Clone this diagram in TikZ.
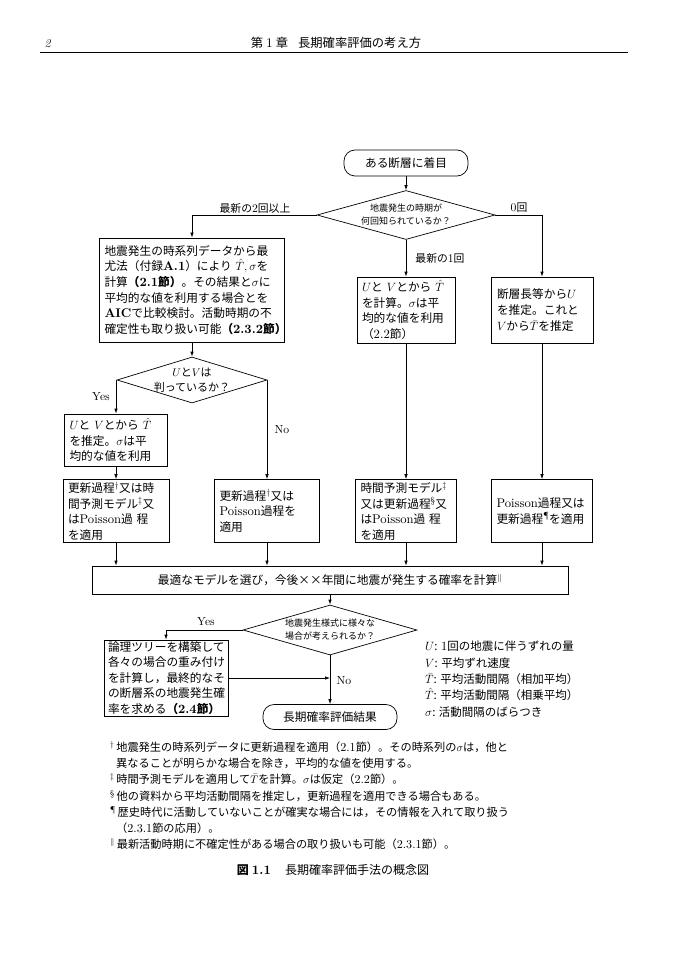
\documentclass[tikz,border=0pt]{standalone}
\usepackage[no-math]{fontspec}
\newfontfamily\jp{Noto Sans CJK JP}
\newfontfamily\lmfam{lmroman10-regular}[Extension=.otf, BoldFont=lmroman10-bold, ItalicFont=lmroman10-italic, Scale=1.08]
\usetikzlibrary{shapes.geometric,arrows.meta}
\newcommand\lt[1]{{\lmfam #1}}
\newcommand\fnm[1]{{\lmfam\textsuperscript{#1}}}
\begin{document}
\begin{tikzpicture}[x=1pt,y=-1pt,
  every node/.style={font=\jp\fontsize{11.7}{15.6}\selectfont},
  box/.style={draw, line width=0.7pt, align=left, inner xsep=5pt, inner ysep=0pt},
  term/.style={draw, line width=0.7pt, rounded corners=11pt, inner sep=0pt, align=center},
  dia/.style={draw, diamond, line width=0.7pt, inner sep=0pt},
  dtext/.style={align=center, font=\jp\fontsize{9}{13}\selectfont},
  dtextb/.style={align=center, font=\jp\fontsize{11}{15}\selectfont},
  lab/.style={font=\jp\fontsize{10.8}{13}\selectfont},
  arr/.style={line width=0.7pt, -{Latex[length=5pt,width=3.5pt]}}
]
\useasboundingbox (0,0) rectangle (699,968);

% header
\node[anchor=base west, font=\fontsize{12}{14}\selectfont] (pg) at (41,48) {\itshape 2};
\node[anchor=base, font=\jp\fontsize{12.3}{14}\selectfont] (hd) at (336,48) {第\hspace{3pt}\lt{1}\hspace{3pt}章\hspace{10pt}長期確率評価の考え方};
\draw[line width=0.6pt] (40,52) -- (628,52);

% nodes
\node[term, minimum width=124pt, minimum height=26pt] (start) at (406,163) {ある断層に着目};
\node[dia, minimum width=178pt, minimum height=49pt,
  label={[dtext]center:{地震発生の時期が\\何回知られているか？}}] (d1) at (406,215) {};

\node[box, text width=175pt, minimum height=104pt] (lb) at (192,290) {%
地震発生の時系列データから最\\
尤法（付録\lt{\bfseries A.1}）により $\hat{T}, \sigma$を\\
計算{\bfseries （\lt{2.1}節）}。その結果と$\sigma$に\\
平均的な値を利用する場合とを\\
\lt{\bfseries AIC}で比較検討。活動時期の不\\
確定性も取り扱い可能{\bfseries （\lt{2.3.2}節）}};

\node[box, text width=88pt, minimum height=66pt] (mb) at (406,310) {%
$U$と $V$とから $\hat{T}$\\
を計算。$\sigma$は平\\
均的な値を利用\\
（\lt{2.2}節）};

\node[box, text width=90pt, inner xsep=6pt, minimum height=66pt] (rb) at (542,310) {%
断層長等から$U$\\
を推定。これと\\
$V$から$\bar{T}$を推定};

\node[dia, minimum width=150pt, minimum height=46pt,
  label={[dtextb]center:{$U$と$V$は\\判っているか？}}] (d2) at (192,380) {};

\node[box, text width=93pt, minimum height=52pt] (sb) at (116,440) {%
$U$と $V$とから $\hat{T}$\\
を推定。$\sigma$は平\\
均的な値を利用};

\node[box, text width=96pt, minimum height=63pt] (ba) at (116,511) {%
更新過程\fnm{\dag}又は時\\
間予測モデル\fnm{\ddag}又\\
は\lt{Poisson}過 程\\
を適用};
\node[box, text width=95pt, minimum height=63pt] (bb) at (267,511) {%
更新過程\fnm{\dag}又は\\
\lt{Poisson}過程を\\
適用};
\node[box, text width=91pt, minimum height=63pt] (bc) at (406,511) {%
時間予測モデル\fnm{\ddag}\\
又は更新過程\fnm{\S}又\\
は\lt{Poisson}過 程\\
を適用};
\node[box, text width=91pt, minimum height=63pt] (bd) at (542,511) {%
\lt{Poisson}過程又は\\
更新過程\fnm{\P}を適用};

\node[box, align=center, text width=466pt, minimum height=28pt] (wb) at (330,580) {%
最適なモデルを選び，今後××年間に地震が発生する確率を計算$^{\|}$};

\node[dia, minimum width=174pt, minimum height=50pt,
  label={[dtext]center:{地震発生様式に様々な\\場合が考えられるか？}}] (d3) at (330,630) {};

\node[box, text width=116pt, inner xsep=4pt, minimum height=76pt] (eb) at (166,678) {%
論理ツリーを構築して\\
各々の場合の重み付け\\
を計算し，最終的なそ\\
の断層系の地震発生確\\
率を求める{\bfseries （\lt{2.4}節）}};

\node[term, minimum width=134pt, minimum height=25pt] (fin) at (330,717) {長期確率評価結果};

% connectors
\draw[arr] (start.south) -- (d1.north);
\draw[arr] (d1.west) -| (lb.north);
\draw[arr] (d1.east) -| (rb.north);
\draw[arr] (d1.south) -- (mb.north);
\draw[arr] (lb.south) -- (d2.north);
\draw[arr] (d2.west) -| (sb.north);
\draw[arr] (d2.east) -| (bb.north);
\draw[arr] (sb.south) -- (ba.north);
\draw[arr] (mb.south) -- (bc.north);
\draw[arr] (rb.south) -- (bd.north);
\foreach \n in {ba,bb,bc,bd} \draw[arr] (\n.south) -- (\n.south |- wb.north);
\draw[arr] (wb.south) -- (d3.north);
\draw[arr] (d3.west) -| (eb.north);
\draw[arr] (d3.south) -- (fin.north);
\draw[arr] (eb.east) -- (eb.east -| d3.south);

% labels
\node[lab] (l2) at (255,208) {最新の\lt{2}回以上};
\node[lab] (l0) at (519,208) {\lt{0}回};
\node[lab] (l1) at (440,258) {最新の\lt{1}回};
\node[lab] (ly1) at (101,397) {\lt{Yes}};
\node[lab] (ln1) at (282,430) {\lt{No}};
\node[lab] (ly2) at (206,622) {\lt{Yes}};
\node[lab] (ln2) at (344,681) {\lt{No}};

% legend
\node[anchor=north west, align=left, inner sep=0pt, font=\jp\fontsize{11.5}{16.3}\selectfont] (leg) at (425,641) {%
$U$: \lt{1}回の地震に伴うずれの量\\
$V$: 平均ずれ速度\\
$\bar{T}$: 平均活動間隔（相加平均）\\
$\hat{T}$: 平均活動間隔（相乗平均）\\
$\sigma$: 活動間隔のばらつき};

% footnotes
\node[anchor=north west, align=left, inner sep=0pt, font=\jp\fontsize{11.2}{16.3}\selectfont] (fn) at (110,741) {%
\fnm{\dag}\,地震発生の時系列データに更新過程を適用（\lt{2.1}節）。その時系列の$\sigma$は，他と\\
\hspace{6pt}異なることが明らかな場合を除き，平均的な値を使用する。\\
\fnm{\ddag}\,時間予測モデルを適用して$\bar{T}$を計算。$\sigma$は仮定（\lt{2.2}節）。\\
\fnm{\S}\,他の資料から平均活動間隔を推定し，更新過程を適用できる場合もある。\\
\fnm{\P}\,歴史時代に活動していないことが確実な場合には，その情報を入れて取り扱う\\
\hspace{6pt}（\lt{2.3.1}節の応用）。\\
$^{\|}$\,最新活動時期に不確定性がある場合の取り扱いも可能（\lt{2.3.1}節）。};

% caption
\node[font=\jp\fontsize{12}{14}\selectfont] (cap) at (333,870) {{\bfseries 図\hspace{3pt}\lt{1.1}}\hspace{14pt}長期確率評価手法の概念図};
\end{tikzpicture}
\end{document}
